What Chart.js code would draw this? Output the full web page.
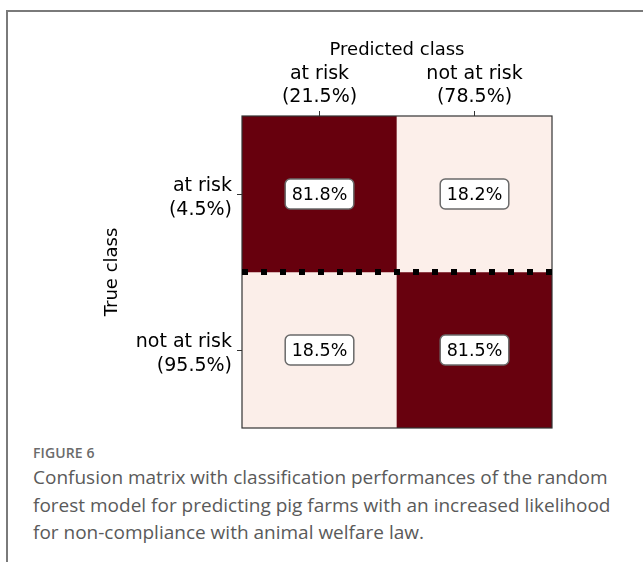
<!DOCTYPE html>
<html>
<head>
<meta charset="utf-8">
<script src="https://cdn.jsdelivr.net/npm/chart.js@4.4.1/dist/chart.umd.min.js"></script>
<style>
  html, body { margin: 0; padding: 0; background: #fff; }
  body { width: 643px; height: 562px; position: relative; overflow: hidden; }
  .frame-left { position: absolute; left: 6px; top: 10px; width: 2px; height: 560px; background: #7a7a7a; }
  .frame-top { position: absolute; left: 6px; top: 10px; width: 640px; height: 2px; background: #7a7a7a; }
  #wrap { position: absolute; left: 0; top: 0; width: 643px; height: 440px; }
  .caption { position: absolute; left: 33px; top: 443px; width: 600px; font-family: "Open Sans", sans-serif; }
  .caption .fig { font-size: 14px; font-weight: 600; color: #6b6b6b; letter-spacing: 0.1px; margin-bottom: 2px; }
  .caption .txt { font-size: 19px; line-height: 27.5px; color: #5a5a5a; font-weight: 400; }
</style>
</head>
<body>
<div class="frame-left"></div>
<div class="frame-top"></div>
<div id="wrap"><canvas id="chart"></canvas></div>
<div class="caption">
  <div class="fig">FIGURE 6</div>
  <div class="txt">Confusion matrix with classification performances of the random forest model for predicting pig farms with an increased likelihood for non-compliance with animal welfare law.</div>
</div>
<script>
// confusion matrix data (rows = true class, columns = predicted class)
const predClasses = ['at risk', 'not at risk'];
const predShares = ['21.5', '78.5'];
const trueClasses = ['at risk', 'not at risk'];
const trueShares = ['4.5', '95.5'];
const rowAtRisk = [81.8, 18.2];
const rowNotAtRisk = [18.5, 81.5];
const rows = [rowAtRisk, rowNotAtRisk];

const FONT = '"DejaVu Sans", sans-serif';

// Reds-like colour: light to dark red, normalised on min/max of the matrix
const allVals = rows.flat();
const vMin = Math.min(...allVals), vMax = Math.max(...allVals);
const lo = [252, 239, 234], hi = [103, 0, 13];
function cellColor(v) {
  const t = (v - vMin) / (vMax - vMin);
  const c = lo.map((l, k) => Math.round(l + (hi[k] - l) * t));
  return `rgb(${c[0]},${c[1]},${c[2]})`;
}

// frame around the matrix
const framePlugin = {
  id: 'frame',
  afterDatasetsDraw(chart) {
    const { ctx, chartArea: a } = chart;
    ctx.save();
    ctx.strokeStyle = '#333';
    ctx.lineWidth = 1.2;
    ctx.strokeRect(a.left, a.top, a.right - a.left, a.bottom - a.top);
    ctx.restore();
  }
};

// dotted separator between the two true classes
const dottedPlugin = {
  id: 'dotted',
  afterDatasetsDraw(chart) {
    const { ctx, chartArea: a, scales } = chart;
    const y = scales.y.getPixelForValue(1);
    ctx.save();
    ctx.strokeStyle = '#000';
    ctx.lineWidth = 6;
    ctx.setLineDash([6, 13]);
    ctx.beginPath();
    ctx.moveTo(a.left, y);
    ctx.lineTo(a.right, y);
    ctx.stroke();
    ctx.restore();
  }
};

// boxed percentage labels in each cell
const cellLabelPlugin = {
  id: 'cellLabels',
  afterDatasetsDraw(chart) {
    const { ctx } = chart;
    ctx.save();
    ctx.font = '17.5px ' + FONT;
    ctx.textAlign = 'center';
    ctx.textBaseline = 'middle';
    chart.data.datasets.forEach((ds, i) => {
      const meta = chart.getDatasetMeta(i);
      meta.data.forEach((el, j) => {
        const txt = rows[i][j].toFixed(1) + '%';
        const cx = el.x;
        const cy = (el.y + el.base) / 2;
        const w = ctx.measureText(txt).width + 13;
        const h = 30;
        ctx.beginPath();
        ctx.roundRect(cx - w / 2, cy - h / 2, w, h, 5);
        ctx.fillStyle = '#fff';
        ctx.fill();
        ctx.strokeStyle = '#6a6a6a';
        ctx.lineWidth = 1.5;
        ctx.stroke();
        ctx.fillStyle = '#000';
        ctx.fillText(txt, cx, cy + 1);
      });
    });
    ctx.restore();
  }
};

const datasets = rows.map((vals, i) => ({
  label: trueClasses[i],
  data: vals.map(() => [i, i + 1]),
  backgroundColor: vals.map(cellColor),
  borderWidth: 0,
  barPercentage: 1,
  categoryPercentage: 1,
  grouped: false
}));

new Chart(document.getElementById('chart'), {
  type: 'bar',
  data: { labels: predClasses, datasets },
  options: {
    responsive: true,
    maintainAspectRatio: false,
    animation: false,
    layout: { padding: { left: 102, right: 91, top: 36, bottom: 12 } },
    plugins: { legend: { display: false }, tooltip: { enabled: false } },
    scales: {
      x: {
        type: 'category',
        position: 'top',
        offset: true,
        afterFit(scale) { scale.height = 80; scale.paddingLeft = 0; scale.paddingRight = 0; },
        grid: { display: true, offset: false, drawOnChartArea: false, tickLength: 5, color: '#333', lineWidth: 1 },
        border: { display: false },
        ticks: {
          color: '#000',
          padding: 2,
          maxRotation: 0,
          font: { family: FONT, size: 19, lineHeight: 1.23 },
          callback: (v, i) => [predClasses[i], '(' + predShares[i] + '%)']
        },
        title: {
          display: true,
          text: 'Predicted class',
          color: '#000',
          padding: { top: 4, bottom: 0 },
          font: { family: FONT, size: 18, lineHeight: 1.15 }
        }
      },
      y: {
        type: 'linear',
        reverse: true,
        min: 0,
        max: 2,
        afterFit(scale) { scale.width = 140; scale.paddingTop = 0; scale.paddingBottom = 0; },
        afterBuildTicks(scale) { scale.ticks = trueClasses.map((_, i) => ({ value: i + 0.5 })); },
        grid: { display: true, drawOnChartArea: false, tickLength: 5, color: '#333', lineWidth: 1 },
        border: { display: false },
        ticks: {
          color: '#000',
          padding: 5,
          labelOffset: 4,
          font: { family: FONT, size: 19, lineHeight: 1.25 },
          callback: (v, i) => [trueClasses[i], '(' + trueShares[i] + '%)']
        },
        title: {
          display: true,
          text: 'True class',
          color: '#000',
          padding: { top: 0, bottom: 0 },
          font: { family: FONT, size: 18, lineHeight: 1.15 }
        }
      }
    }
  },
  plugins: [framePlugin, dottedPlugin, cellLabelPlugin]
});
</script>
</body>
</html>
